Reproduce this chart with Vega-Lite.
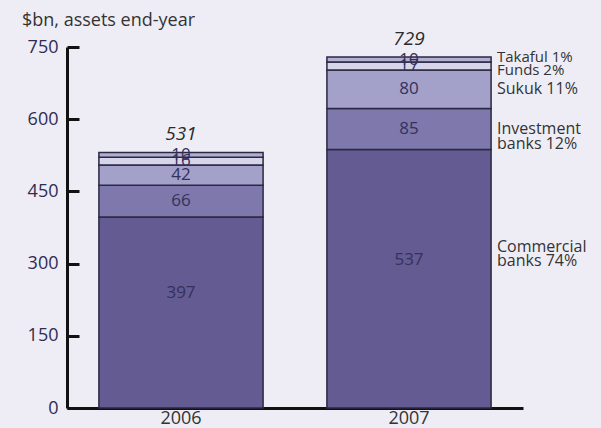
{
  "$schema": "https://vega.github.io/schema/vega-lite/v6.json",
  "width": 456,
  "height": 361,
  "autosize": {"type": "none"},
  "padding": {"left": 67, "top": 47, "right": 78, "bottom": 20},
  "background": "#EEEDF6",
  "title": {
    "text": "$bn, assets end-year",
    "anchor": "start",
    "frame": "group",
    "dx": -45,
    "offset": 0,
    "fontSize": 18,
    "fontWeight": "normal",
    "font": "Open Sans",
    "color": "#333333"
  },
  "config": {
    "view": {"stroke": null},
    "font": "Open Sans"
  },
  "data": {
    "values": [
      {"year": "2006", "type": "Commercial banks", "ord": 1, "value": 397, "label": ""},
      {"year": "2006", "type": "Investment banks", "ord": 2, "value": 66, "label": ""},
      {"year": "2006", "type": "Sukuk", "ord": 3, "value": 42, "label": ""},
      {"year": "2006", "type": "Funds", "ord": 4, "value": 16, "label": ""},
      {"year": "2006", "type": "Takaful", "ord": 5, "value": 10, "label": ""},
      {"year": "2007", "type": "Commercial banks", "ord": 1, "value": 537, "label": "Commercial\nbanks 74%"},
      {"year": "2007", "type": "Investment banks", "ord": 2, "value": 85, "label": "Investment\nbanks 12%"},
      {"year": "2007", "type": "Sukuk", "ord": 3, "value": 80, "label": "Sukuk 11%"},
      {"year": "2007", "type": "Funds", "ord": 4, "value": 17, "label": "Funds 2%"},
      {"year": "2007", "type": "Takaful", "ord": 5, "value": 10, "label": "Takaful 1%"}
    ]
  },
  "encoding": {
    "x": {
      "field": "year",
      "type": "nominal",
      "scale": {"paddingInner": 0.28, "paddingOuter": 0.14},
      "axis": {
        "title": null,
        "labelAngle": 0,
        "ticks": false,
        "domainColor": "#111111",
        "domainWidth": 3,
        "labelFontSize": 18,
        "labelColor": "#333333",
        "labelPadding": 1
      }
    }
  },
  "layer": [
    {
      "mark": {"type": "bar", "stroke": "#2b2842", "strokeWidth": 1.5},
      "encoding": {
        "y": {
          "field": "value",
          "type": "quantitative",
          "stack": "zero",
          "scale": {"domain": [0, 750], "nice": false},
          "axis": {
            "title": null,
            "values": [0, 150, 300, 450, 600, 750],
            "grid": false,
            "domainColor": "#111111",
            "domainWidth": 3,
            "tickColor": "#111111",
            "tickWidth": 3,
            "tickSize": -12,
            "labelPadding": 21,
            "labelFontSize": 18,
            "labelColor": "#2e2c52"
          }
        },
        "color": {
          "field": "type",
          "type": "nominal",
          "scale": {
            "domain": ["Commercial banks", "Investment banks", "Sukuk", "Funds", "Takaful"],
            "range": ["#635B92", "#7E78AC", "#A3A0C9", "#D7D5EA", "#B2AED1"]
          },
          "legend": null
        },
        "order": {"field": "ord", "type": "quantitative"}
      }
    },
    {
      "transform": [
        {"stack": "value", "groupby": ["year"], "sort": [{"field": "ord"}], "as": ["v0", "v1"]},
        {"calculate": "(datum.v0 + datum.v1) / 2", "as": "mid"},
        {"filter": "datum.ord > 1"}
      ],
      "mark": {"type": "text", "fontSize": 17, "color": "#34315c", "baseline": "middle"},
      "encoding": {
        "y": {"field": "mid", "type": "quantitative"},
        "text": {"field": "value", "type": "quantitative"}
      }
    },
    {
      "transform": [
        {"stack": "value", "groupby": ["year"], "sort": [{"field": "ord"}], "as": ["v0", "v1"]},
        {"calculate": "(datum.v0 + datum.v1) / 2", "as": "mid"},
        {"filter": "datum.ord == 1"}
      ],
      "mark": {"type": "text", "fontSize": 17, "color": "#34315c", "baseline": "middle", "dy": -19},
      "encoding": {
        "y": {"field": "mid", "type": "quantitative"},
        "text": {"field": "value", "type": "quantitative"}
      }
    },
    {
      "transform": [
        {"aggregate": [{"op": "sum", "field": "value", "as": "total"}], "groupby": ["year"]}
      ],
      "mark": {"type": "text", "fontSize": 19, "fontStyle": "italic", "color": "#2a2a2a", "baseline": "bottom", "dy": -8},
      "encoding": {
        "y": {"field": "total", "type": "quantitative"},
        "text": {"field": "total", "type": "quantitative"}
      }
    },
    {
      "transform": [
        {"stack": "value", "groupby": ["year"], "sort": [{"field": "ord"}], "as": ["v0", "v1"]},
        {"calculate": "(datum.v0 + datum.v1) / 2", "as": "mid"},
        {"filter": "datum.year == '2007' && (datum.ord == 2 || datum.ord == 3)"}
      ],
      "mark": {"type": "text", "fontSize": 16, "color": "#333333", "align": "left", "baseline": "middle", "dx": 88, "lineBreak": "\n", "lineHeight": 15},
      "encoding": {
        "y": {"field": "mid", "type": "quantitative"},
        "text": {"field": "label"}
      }
    },
    {
      "transform": [
        {"stack": "value", "groupby": ["year"], "sort": [{"field": "ord"}], "as": ["v0", "v1"]},
        {"calculate": "(datum.v0 + datum.v1) / 2", "as": "mid"},
        {"filter": "datum.year == '2007' && datum.ord == 1"}
      ],
      "mark": {"type": "text", "fontSize": 16, "color": "#333333", "align": "left", "baseline": "middle", "dx": 88, "dy": -32, "lineBreak": "\n", "lineHeight": 14},
      "encoding": {
        "y": {"field": "mid", "type": "quantitative"},
        "text": {"field": "label"}
      }
    },
    {
      "transform": [
        {"stack": "value", "groupby": ["year"], "sort": [{"field": "ord"}], "as": ["v0", "v1"]},
        {"calculate": "(datum.v0 + datum.v1) / 2", "as": "mid"},
        {"filter": "datum.year == '2007' && datum.ord == 4"}
      ],
      "mark": {"type": "text", "fontSize": 15, "color": "#333333", "align": "left", "baseline": "middle", "dx": 88, "dy": 4},
      "encoding": {
        "y": {"field": "mid", "type": "quantitative"},
        "text": {"field": "label"}
      }
    },
    {
      "transform": [
        {"stack": "value", "groupby": ["year"], "sort": [{"field": "ord"}], "as": ["v0", "v1"]},
        {"calculate": "(datum.v0 + datum.v1) / 2", "as": "mid"},
        {"filter": "datum.year == '2007' && datum.ord == 5"}
      ],
      "mark": {"type": "text", "fontSize": 15, "color": "#333333", "align": "left", "baseline": "middle", "dx": 88, "dy": -3},
      "encoding": {
        "y": {"field": "mid", "type": "quantitative"},
        "text": {"field": "label"}
      }
    }
  ]
}
